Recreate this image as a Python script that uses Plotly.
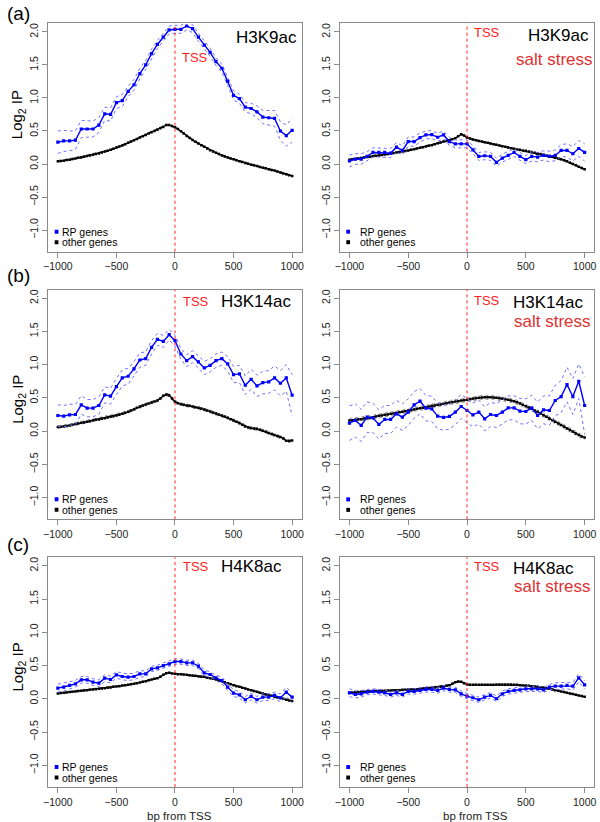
import plotly.graph_objects as go

W, H = 600, 822

# ---------------- data ----------------
bp_rp = [-1000 + 50 * i for i in range(41)]      # RP genes sampled every 50 bp
bp_other = [-1000 + 25 * i for i in range(81)]   # other genes sampled every 25 bp

y_ticks = [-1.0, -0.5, 0.0, 0.5, 1.0, 1.5, 2.0]
y_ticktext = ["−1.0", "−0.5", "0.0", "0.5", "1.0", "1.5", "2.0"]
x_ticks = [-1000, -500, 0, 500, 1000]
x_ticktext = ["−1000", "−500", "0", "500", "1000"]

# (a) H3K9ac, control
rp_h3k9ac = [0.33, 0.35, 0.35, 0.36, 0.53, 0.53, 0.53, 0.59, 0.76, 0.75,
             0.93, 0.96, 1.10, 1.20, 1.37, 1.50, 1.67, 1.81, 1.92, 2.03,
             2.04, 2.04, 2.09, 2.05, 1.92, 1.80, 1.69, 1.55, 1.45, 1.25,
             1.04, 0.99, 0.86, 0.84, 0.79, 0.71, 0.70, 0.69, 0.50, 0.43, 0.51]
rp_se_h3k9ac = [0.17, 0.16, 0.15, 0.14, 0.13, 0.12, 0.12, 0.11, 0.10, 0.10,
                0.09, 0.09, 0.08, 0.08, 0.08, 0.07, 0.07, 0.06, 0.06, 0.06,
                0.06, 0.06, 0.06, 0.06, 0.06, 0.06, 0.06, 0.06, 0.06, 0.06,
                0.07, 0.07, 0.07, 0.08, 0.09, 0.10, 0.11, 0.12, 0.14, 0.16, 0.18]
other_h3k9ac = [0.04, 0.045, 0.05, 0.06, 0.065, 0.075, 0.085, 0.095, 0.10, 0.11,
                0.12, 0.13, 0.14, 0.15, 0.16, 0.175, 0.19, 0.20, 0.215, 0.23,
                0.25, 0.265, 0.28, 0.30, 0.32, 0.34, 0.36, 0.38, 0.40, 0.42,
                0.44, 0.46, 0.48, 0.50, 0.52, 0.54, 0.56, 0.59, 0.59, 0.575,
                0.555, 0.53, 0.495, 0.46, 0.425, 0.395, 0.365, 0.335, 0.31, 0.285,
                0.26, 0.235, 0.21, 0.19, 0.17, 0.15, 0.13, 0.115, 0.10, 0.085,
                0.07, 0.055, 0.04, 0.03, 0.015, 0.005, -0.01, -0.02, -0.03, -0.045,
                -0.055, -0.065, -0.08, -0.09, -0.10, -0.115, -0.13, -0.145, -0.155, -0.17,
                -0.18]
other_band_h3k9ac = 0.012

# (a) H3K9ac, salt stress
rp_h3k9ac_salt = [0.045, 0.075, 0.075, 0.115, 0.175, 0.175, 0.175, 0.165, 0.255, 0.205,
                  0.34, 0.34, 0.40, 0.44, 0.445, 0.405, 0.44, 0.34, 0.305, 0.305,
                  0.305, 0.215, 0.115, 0.125, 0.115, 0.025, 0.09, 0.13, 0.175, 0.115,
                  0.065, 0.115, 0.105, 0.13, 0.115, 0.13, 0.205, 0.205, 0.155, 0.235, 0.175]
rp_se_h3k9ac_salt = [0.09, 0.08, 0.08, 0.07, 0.07, 0.07, 0.07, 0.07, 0.07, 0.07,
                     0.07, 0.07, 0.07, 0.06, 0.06, 0.06, 0.06, 0.06, 0.06, 0.06,
                     0.06, 0.06, 0.06, 0.06, 0.06, 0.06, 0.06, 0.06, 0.06, 0.06,
                     0.06, 0.07, 0.07, 0.07, 0.08, 0.08, 0.09, 0.10, 0.11, 0.12, 0.13]
other_h3k9ac_salt = [0.065, 0.07, 0.075, 0.085, 0.09, 0.10, 0.105, 0.11, 0.12, 0.125,
                     0.13, 0.135, 0.145, 0.15, 0.16, 0.165, 0.175, 0.18, 0.19, 0.195,
                     0.205, 0.215, 0.225, 0.235, 0.245, 0.255, 0.265, 0.275, 0.285, 0.30,
                     0.315, 0.325, 0.34, 0.35, 0.36, 0.375, 0.39, 0.42, 0.45, 0.43,
                     0.40, 0.385, 0.37, 0.36, 0.35, 0.34, 0.33, 0.32, 0.31, 0.30,
                     0.29, 0.28, 0.27, 0.26, 0.25, 0.24, 0.23, 0.22, 0.215, 0.205,
                     0.20, 0.19, 0.18, 0.17, 0.16, 0.15, 0.14, 0.13, 0.12, 0.11,
                     0.10, 0.085, 0.07, 0.055, 0.04, 0.02, 0.0, -0.02, -0.04, -0.06,
                     -0.08]
other_band_h3k9ac_salt = 0.012

# (b) H3K14ac, control
rp_h3k14ac = [0.235, 0.225, 0.245, 0.25, 0.395, 0.345, 0.345, 0.385, 0.545, 0.525,
              0.67, 0.80, 0.825, 0.935, 1.07, 1.09, 1.26, 1.38, 1.35, 1.45,
              1.36, 1.16, 1.06, 1.12, 1.04, 0.95, 0.99, 1.06, 1.09, 1.01,
              0.85, 0.86, 0.69, 0.78, 0.68, 0.73, 0.74, 0.80, 0.72, 0.80, 0.54]
rp_se_h3k14ac = [0.16, 0.16, 0.16, 0.15, 0.14, 0.13, 0.13, 0.13, 0.12, 0.12,
                 0.12, 0.12, 0.12, 0.11, 0.11, 0.10, 0.10, 0.09, 0.09, 0.08,
                 0.08, 0.08, 0.09, 0.09, 0.09, 0.10, 0.10, 0.10, 0.10, 0.11,
                 0.12, 0.13, 0.14, 0.15, 0.16, 0.17, 0.17, 0.18, 0.19, 0.20, 0.31]
other_h3k14ac = [0.06, 0.065, 0.07, 0.075, 0.085, 0.095, 0.105, 0.115, 0.125, 0.13,
                 0.14, 0.15, 0.16, 0.17, 0.175, 0.185, 0.195, 0.205, 0.215, 0.225,
                 0.235, 0.245, 0.26, 0.275, 0.29, 0.31, 0.33, 0.35, 0.37, 0.385,
                 0.40, 0.415, 0.43, 0.445, 0.46, 0.49, 0.53, 0.55, 0.54, 0.49,
                 0.44, 0.42, 0.405, 0.395, 0.385, 0.38, 0.37, 0.36, 0.35, 0.34,
                 0.325, 0.31, 0.295, 0.28, 0.265, 0.25, 0.235, 0.22, 0.20, 0.18,
                 0.16, 0.14, 0.12, 0.095, 0.07, 0.055, 0.045, 0.04, 0.035, 0.02,
                 0.005, -0.01, -0.03, -0.045, -0.06, -0.075, -0.09, -0.11, -0.145, -0.15,
                 -0.14]
other_band_h3k14ac = 0.02

# (b) H3K14ac, salt stress
rp_h3k14ac_salt = [0.12, 0.16, 0.085, 0.21, 0.20, 0.10, 0.175, 0.175, 0.26, 0.21,
                   0.285, 0.395, 0.45, 0.345, 0.335, 0.225, 0.205, 0.22, 0.285, 0.37,
                   0.31, 0.245, 0.285, 0.185, 0.25, 0.235, 0.285, 0.35, 0.35, 0.30,
                   0.295, 0.35, 0.235, 0.32, 0.31, 0.46, 0.52, 0.70, 0.52, 0.75, 0.385]
rp_se_h3k14ac_salt = [0.26, 0.25, 0.24, 0.23, 0.22, 0.22, 0.21, 0.21, 0.20, 0.20,
                      0.20, 0.20, 0.19, 0.19, 0.19, 0.19, 0.19, 0.19, 0.19, 0.18,
                      0.18, 0.18, 0.18, 0.18, 0.18, 0.18, 0.18, 0.18, 0.18, 0.19,
                      0.19, 0.19, 0.20, 0.21, 0.22, 0.23, 0.24, 0.26, 0.27, 0.26, 0.43]
other_h3k14ac_salt = [0.16, 0.165, 0.17, 0.175, 0.18, 0.19, 0.195, 0.20, 0.21, 0.22,
                      0.23, 0.235, 0.245, 0.25, 0.26, 0.265, 0.275, 0.285, 0.29, 0.30,
                      0.31, 0.315, 0.325, 0.335, 0.345, 0.35, 0.36, 0.37, 0.38, 0.385,
                      0.395, 0.40, 0.41, 0.42, 0.43, 0.435, 0.445, 0.45, 0.46, 0.465,
                      0.47, 0.48, 0.49, 0.495, 0.50, 0.505, 0.51, 0.51, 0.51, 0.505,
                      0.50, 0.495, 0.49, 0.48, 0.47, 0.46, 0.45, 0.435, 0.415, 0.395,
                      0.375, 0.355, 0.335, 0.31, 0.29, 0.265, 0.24, 0.215, 0.19, 0.165,
                      0.14, 0.115, 0.09, 0.065, 0.04, 0.015, -0.01, -0.035, -0.06, -0.08,
                      -0.095]
other_band_h3k14ac_salt = 0.03

# (c) H4K8ac, control
rp_h4k8ac = [0.16, 0.175, 0.20, 0.225, 0.285, 0.285, 0.25, 0.235, 0.31, 0.29,
             0.36, 0.335, 0.325, 0.335, 0.375, 0.375, 0.45, 0.465, 0.50, 0.525,
             0.56, 0.56, 0.54, 0.54, 0.49, 0.39, 0.365, 0.315, 0.275, 0.175,
             0.085, 0.06, -0.015, 0.035, -0.015, 0.025, 0.025, 0.05, 0.015, 0.10, 0.025]
rp_se_h4k8ac = [0.06, 0.06, 0.05, 0.05, 0.05, 0.05, 0.05, 0.05, 0.05, 0.05,
                0.05, 0.05, 0.05, 0.05, 0.05, 0.04, 0.04, 0.04, 0.04, 0.04,
                0.04, 0.04, 0.04, 0.04, 0.04, 0.04, 0.04, 0.04, 0.05, 0.05,
                0.05, 0.05, 0.05, 0.05, 0.05, 0.05, 0.05, 0.05, 0.06, 0.07, 0.07]
other_h4k8ac = [0.08, 0.085, 0.09, 0.095, 0.10, 0.105, 0.11, 0.115, 0.12, 0.125,
                0.13, 0.135, 0.14, 0.145, 0.15, 0.155, 0.16, 0.165, 0.17, 0.18,
                0.185, 0.19, 0.20, 0.205, 0.21, 0.22, 0.225, 0.235, 0.245, 0.255,
                0.265, 0.28, 0.29, 0.30, 0.31, 0.33, 0.36, 0.385, 0.39, 0.38,
                0.375, 0.37, 0.37, 0.365, 0.36, 0.355, 0.35, 0.345, 0.34, 0.335,
                0.33, 0.32, 0.31, 0.30, 0.29, 0.275, 0.265, 0.25, 0.235, 0.22,
                0.205, 0.19, 0.18, 0.165, 0.155, 0.14, 0.13, 0.115, 0.105, 0.09,
                0.08, 0.065, 0.055, 0.045, 0.03, 0.02, 0.01, 0.0, -0.015, -0.025,
                -0.035]
other_band_h4k8ac = 0.01

# (c) H4K8ac, salt stress
rp_h4k8ac_salt = [0.09, 0.065, 0.075, 0.10, 0.11, 0.10, 0.09, 0.065, 0.09, 0.065,
                  0.11, 0.11, 0.125, 0.14, 0.14, 0.125, 0.16, 0.14, 0.135, 0.075,
                  0.04, 0.015, -0.015, 0.025, 0.05, 0.0, 0.075, 0.11, 0.125, 0.135,
                  0.15, 0.15, 0.15, 0.135, 0.175, 0.19, 0.19, 0.20, 0.19, 0.315, 0.21]
rp_se_h4k8ac_salt = [0.06, 0.05, 0.05, 0.04, 0.04, 0.04, 0.04, 0.04, 0.04, 0.04,
                     0.04, 0.04, 0.04, 0.04, 0.04, 0.04, 0.04, 0.04, 0.04, 0.04,
                     0.04, 0.04, 0.04, 0.04, 0.04, 0.04, 0.04, 0.04, 0.04, 0.04,
                     0.04, 0.04, 0.04, 0.04, 0.04, 0.05, 0.05, 0.05, 0.06, 0.06, 0.06]
other_h4k8ac_salt = [0.09, 0.095, 0.10, 0.10, 0.105, 0.105, 0.11, 0.11, 0.115, 0.115,
                     0.12, 0.12, 0.12, 0.125, 0.125, 0.13, 0.13, 0.13, 0.135, 0.135,
                     0.14, 0.14, 0.145, 0.145, 0.15, 0.155, 0.16, 0.16, 0.165, 0.17,
                     0.175, 0.18, 0.185, 0.195, 0.205, 0.225, 0.25, 0.26, 0.255, 0.235,
                     0.215, 0.21, 0.21, 0.21, 0.21, 0.21, 0.21, 0.21, 0.21, 0.21,
                     0.215, 0.215, 0.215, 0.215, 0.215, 0.215, 0.21, 0.21, 0.205, 0.20,
                     0.20, 0.195, 0.19, 0.185, 0.18, 0.175, 0.17, 0.16, 0.15, 0.14,
                     0.13, 0.12, 0.11, 0.10, 0.09, 0.08, 0.07, 0.06, 0.05, 0.04,
                     0.03]
other_band_h4k8ac_salt = 0.01

mark_names = ["H3K9ac", "H3K14ac", "H4K8ac"]
panel_letters = ["(a)", "(b)", "(c)"]
legend_labels = ["RP genes", "other genes"]

# ---------------- layout geometry ----------------
col_px = [(44, 300), (339, 596)]
row_px = [(22.5, 251), (289, 519), (557, 787)]
letter_y = [13, 275, 544]
ytitle_y = [114, 399, 667]

panels = [
    dict(row=0, col=0, rp=rp_h3k9ac, se=rp_se_h3k9ac, other=other_h3k9ac, band=other_band_h3k9ac,
         title_xy=(505, 1.92), tss_xy=(40, 1.61), salt_xy=None),
    dict(row=0, col=1, rp=rp_h3k9ac_salt, se=rp_se_h3k9ac_salt, other=other_h3k9ac_salt, band=other_band_h3k9ac_salt,
         title_xy=(499, 1.95), tss_xy=(44, 1.99), salt_xy=(399, 1.59)),
    dict(row=1, col=0, rp=rp_h3k14ac, se=rp_se_h3k14ac, other=other_h3k14ac, band=other_band_h3k14ac,
         title_xy=(376, 1.945), tss_xy=(50, 1.95), salt_xy=None),
    dict(row=1, col=1, rp=rp_h3k14ac_salt, se=rp_se_h3k14ac_salt, other=other_h3k14ac_salt, band=other_band_h3k14ac_salt,
         title_xy=(373, 1.94), tss_xy=(40, 1.965), salt_xy=(382, 1.65)),
    dict(row=2, col=0, rp=rp_h4k8ac, se=rp_se_h4k8ac, other=other_h4k8ac, band=other_band_h4k8ac,
         title_xy=(376, 1.99), tss_xy=(50, 1.99), salt_xy=None),
    dict(row=2, col=1, rp=rp_h4k8ac_salt, se=rp_se_h4k8ac_salt, other=other_h4k8ac_salt, band=other_band_h4k8ac_salt,
         title_xy=(373, 1.96), tss_xy=(44, 1.99), salt_xy=(382, 1.69)),
]

FONT = "Liberation Sans, Arial, Helvetica, sans-serif"
BLUE = "#0000FF"
BAND_BLUE = "#6F6FFF"
RED = "#FF2020"
FRAME = "#8A8A8A"

fig = go.Figure()
layout = dict(width=W, height=H, margin=dict(l=0, r=0, t=0, b=0),
              paper_bgcolor="white", plot_bgcolor="white", showlegend=False,
              font=dict(family=FONT, color="#222"))
annotations = []
shapes = []

for k, p in enumerate(panels, start=1):
    xa = "x" if k == 1 else f"x{k}"
    ya = "y" if k == 1 else f"y{k}"
    x0p, x1p = col_px[p["col"]]
    top, bot = row_px[p["row"]]
    layout["xaxis" if k == 1 else f"xaxis{k}"] = dict(
        domain=[x0p / W, x1p / W], anchor=ya, range=[-1080, 1080],
        tickvals=x_ticks, ticktext=x_ticktext, ticks="outside", ticklen=5,
        tickcolor=FRAME, showline=True, linecolor=FRAME, linewidth=1, mirror=True,
        showgrid=False, zeroline=False, tickfont=dict(size=10.5, color="#222"))
    layout["yaxis" if k == 1 else f"yaxis{k}"] = dict(
        domain=[1 - bot / H, 1 - top / H], anchor=xa, range=[-1.328, 2.128],
        tickvals=y_ticks, ticktext=y_ticktext, tickangle=-90, ticks="outside", ticklen=5,
        tickcolor=FRAME, showline=True, linecolor=FRAME, linewidth=1, mirror=True,
        showgrid=False, zeroline=False, tickfont=dict(size=10.5, color="#222"))

    rp, se, other, band = p["rp"], p["se"], p["other"], p["band"]
    # other-genes confidence band
    for sgn in (1, -1):
        fig.add_trace(go.Scatter(x=bp_other, y=[v + sgn * band for v in other], mode="lines",
                                 line=dict(color="#9A9A9A", width=1, dash="dot"),
                                 xaxis=xa, yaxis=ya, hoverinfo="skip"))
    # other genes
    fig.add_trace(go.Scatter(x=bp_other, y=other, mode="lines+markers",
                             line=dict(color="black", width=1.3),
                             marker=dict(symbol="square", size=2.5, color="black"),
                             xaxis=xa, yaxis=ya, name="other genes"))
    # RP genes confidence band
    for sgn in (1, -1):
        fig.add_trace(go.Scatter(x=bp_rp, y=[v + sgn * e for v, e in zip(rp, se)], mode="lines",
                                 line=dict(color=BAND_BLUE, width=1, dash="dot"),
                                 xaxis=xa, yaxis=ya, hoverinfo="skip"))
    # RP genes
    fig.add_trace(go.Scatter(x=bp_rp, y=rp, mode="lines+markers",
                             line=dict(color=BLUE, width=1.4),
                             marker=dict(symbol="square", size=3.2, color=BLUE),
                             xaxis=xa, yaxis=ya, name="RP genes"))

    # TSS line
    shapes.append(dict(type="line", xref=xa, yref=f"{ya} domain", x0=0, x1=0, y0=0, y1=1,
                       line=dict(color=RED, width=1, dash="dot")))
    # text labels
    tx, ty = p["title_xy"]
    annotations.append(dict(xref=xa, yref=ya, x=tx, y=ty, text=mark_names[p["row"]],
                            showarrow=False, xanchor="left", yanchor="middle",
                            font=dict(size=17, color="black")))
    sx, sy = p["tss_xy"]
    annotations.append(dict(xref=xa, yref=ya, x=sx, y=sy, text="TSS",
                            showarrow=False, xanchor="left", yanchor="middle",
                            font=dict(size=13, color=RED)))
    if p["salt_xy"]:
        qx, qy = p["salt_xy"]
        annotations.append(dict(xref=xa, yref=ya, x=qx, y=qy, text="salt stress",
                                showarrow=False, xanchor="left", yanchor="middle",
                                font=dict(size=17, color="#E03030")))
    # legend
    text_x = -985 if p["col"] == 0 else -925
    for lbl, col, off in ((legend_labels[0], BLUE, 20), (legend_labels[1], "black", 9.5)):
        shapes.append(dict(type="rect", xref=xa, yref=f"{ya} domain", x0=-1027, x1=-995,
                           ysizemode="pixel", yanchor=0, y0=off - 2, y1=off + 2,
                           fillcolor=col, line=dict(width=0)))
        annotations.append(dict(xref=xa, yref=f"{ya} domain", x=text_x, y=0, yshift=off,
                                text=lbl, showarrow=False, xanchor="left", yanchor="middle",
                                font=dict(size=10.5, color="black")))

# panel letters and axis titles
for r in range(3):
    annotations.append(dict(xref="paper", yref="paper", x=0, y=1 - letter_y[r] / H,
                            text=panel_letters[r], showarrow=False, xanchor="left",
                            yanchor="middle", font=dict(size=19, color="black")))
    annotations.append(dict(xref="paper", yref="paper", x=13.5 / W, y=1 - ytitle_y[r] / H,
                            text="Log<sub>2</sub> IP", textangle=-90, showarrow=False,
                            xanchor="center", yanchor="middle", font=dict(size=15, color="black")))
for cx in (176.5, 476):
    annotations.append(dict(xref="paper", yref="paper", x=cx / W, y=1 - 816 / H,
                            text="bp from TSS", showarrow=False, xanchor="center",
                            yanchor="middle", font=dict(size=11.5, color="#222")))

layout["annotations"] = annotations
layout["shapes"] = shapes
fig.update_layout(**layout)
fig.write_html("out.html", config={"displayModeBar": False},
               post_script="document.body.style.margin='0px';document.body.style.overflow='hidden';")
